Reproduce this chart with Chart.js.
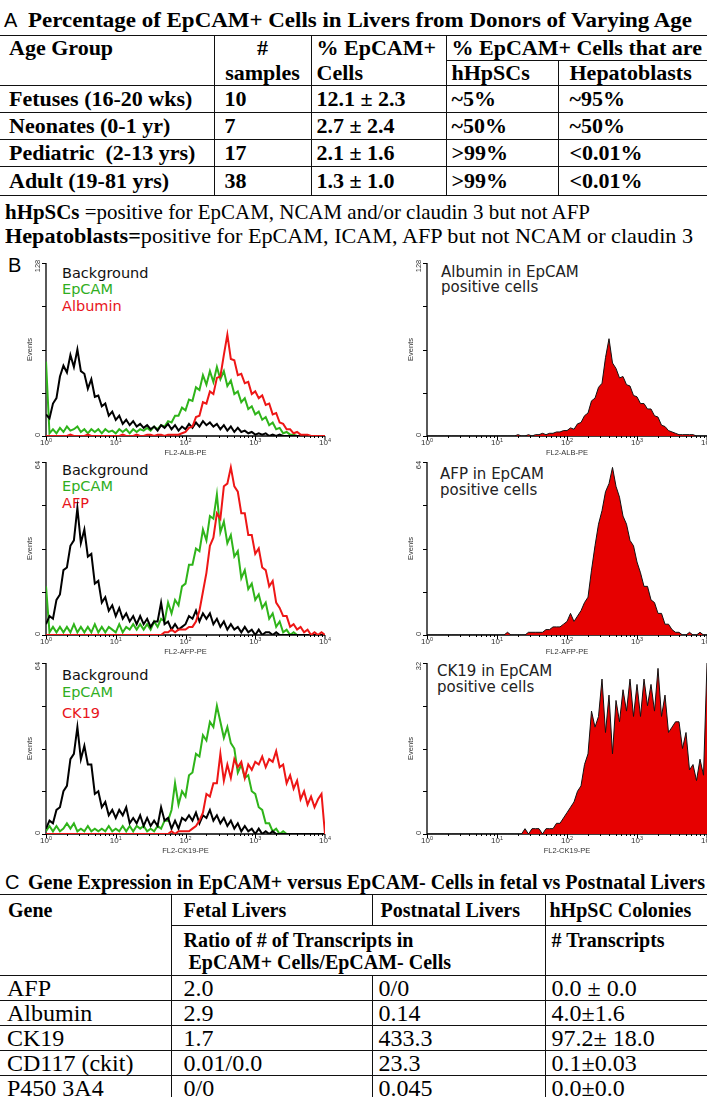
<!DOCTYPE html>
<html>
<head>
<meta charset="utf-8">
<script src="https://cdn.jsdelivr.net/npm/chart.js@4.4.1/dist/chart.umd.min.js"></script>
<style>
  body { margin: 0; background: #fff; }
  #fig { position: relative; width: 707px; height: 1097px; overflow: hidden;
         font-family: 'Liberation Serif', 'Times New Roman', serif; color: #000; }
  .abs { position: absolute; white-space: nowrap; }
  .plabel { font-family: 'Liberation Sans', Arial, sans-serif; font-size: 20px; line-height: 20px; }
  .ttl { font-weight: bold; font-size: 21px; line-height: 22px; transform-origin: 0 50%; }
  .note { font-size: 21px; line-height: 22px; transform-origin: 0 50%; }
  table { position: absolute; left: 0; border-collapse: collapse; table-layout: fixed; }
  td { border: 1px solid #111; padding: 0 0 0 6px; vertical-align: middle; white-space: nowrap; overflow: visible; }
  td:first-child { border-left: none; }
  #tabA td { font-weight: bold; font-size: 22px; line-height: 22px; }
  #tabC td { font-size: 24px; line-height: 24px; }
  #tabC tr.hd td { font-weight: bold; font-size: 20px; line-height: 22px; }
  td.nb { border-bottom: none; }
  td.nt { border-top: none; }
  td.c { text-align: center; padding-left: 0; }
  td.top { vertical-align: top; padding-top: 3px; }
  canvas { position: absolute; }
  .leg { position: absolute; font-family: 'DejaVu Sans', sans-serif; font-size: 14.5px; line-height: 16px; white-space: nowrap; }
  .g { color: #2fae1e; }
  .r { color: #e8141b; }
  .k { color: #111; }
  .d { color: #222; font-size: 15px; }
</style>
</head>
<body>
<div id="fig">
  <div class="abs plabel" style="left:4px;top:10px">A</div>
  <div class="abs ttl" style="left:28px;top:9px" data-w="664">Percentage of EpCAM+ Cells in Livers from Donors of Varying Age</div>

  <table id="tabA" style="top:35px;width:707px">
    <colgroup><col style="width:214px"><col style="width:97px"><col style="width:135px"><col style="width:112px"><col style="width:149px"></colgroup>
    <tr style="height:25px"><td class="nb" style="padding-left:9px">Age Group</td><td class="nb c">#</td><td class="nb" style="padding-left:5px">% EpCAM+</td><td colspan="2" style="padding-left:5px">% EpCAM+ Cells that are</td></tr>
    <tr style="height:25px"><td class="nt"></td><td class="nt c">samples</td><td class="nt" style="padding-left:5px">Cells</td><td style="padding-left:5px">hHpSCs</td><td style="padding-left:11px">Hepatoblasts</td></tr>
    <tr style="height:27px"><td style="padding-left:9px">Fetuses (16-20 wks)</td><td style="padding-left:10px">10</td><td style="padding-left:5px">12.1 ± 2.3</td><td style="padding-left:5px">~5%</td><td style="padding-left:11px">~95%</td></tr>
    <tr style="height:27px"><td style="padding-left:9px">Neonates (0-1 yr)</td><td style="padding-left:10px">7</td><td style="padding-left:5px">2.7 ± 2.4</td><td style="padding-left:5px">~50%</td><td style="padding-left:11px">~50%</td></tr>
    <tr style="height:27px"><td style="padding-left:9px">Pediatric&nbsp; (2-13 yrs)</td><td style="padding-left:10px">17</td><td style="padding-left:5px">2.1 ± 1.6</td><td style="padding-left:5px">&gt;99%</td><td style="padding-left:11px">&lt;0.01%</td></tr>
    <tr style="height:29px"><td style="padding-left:9px">Adult (19-81 yrs)</td><td style="padding-left:10px">38</td><td style="padding-left:5px">1.3 ± 1.0</td><td style="padding-left:5px">&gt;99%</td><td style="padding-left:11px">&lt;0.01%</td></tr>
  </table>

  <div class="abs note" style="left:5px;top:201px" data-w="585"><b>hHpSCs</b> =positive for EpCAM, NCAM and/or claudin 3 but not AFP</div>
  <div class="abs note" style="left:5px;top:225px" data-w="688"><b>Hepatoblasts=</b>positive for EpCAM, ICAM, AFP but not NCAM or claudin 3</div>

  <div class="abs plabel" style="left:8px;top:255px">B</div>

  <div class="leg k" style="left:62px;top:265px">Background</div>
  <div class="leg g" style="left:62px;top:281px">EpCAM</div>
  <div class="leg r" style="left:62px;top:298px">Albumin</div>
  <div class="leg d" style="left:441px;top:264px">Albumin in EpCAM</div>
  <div class="leg d" style="left:441px;top:279px">positive cells</div>

  <div class="leg k" style="left:62px;top:462px">Background</div>
  <div class="leg g" style="left:62px;top:478px">EpCAM</div>
  <div class="leg r" style="left:62px;top:495px">AFP</div>
  <div class="leg d" style="left:440px;top:466px">AFP in EpCAM</div>
  <div class="leg d" style="left:440px;top:482px">positive cells</div>

  <div class="leg k" style="left:62px;top:667px">Background</div>
  <div class="leg g" style="left:62px;top:684px">EpCAM</div>
  <div class="leg r" style="left:62px;top:705px">CK19</div>
  <div class="leg d" style="left:437px;top:663px">CK19 in EpCAM</div>
  <div class="leg d" style="left:437px;top:679px">positive cells</div>

  <div class="abs plabel" style="left:5px;top:872px">C</div>
  <div class="abs ttl" style="left:28px;top:871px" data-w="677">Gene Expression in EpCAM+ versus EpCAM- Cells in fetal vs Postnatal Livers</div>

  <table id="tabC" style="top:894px;width:707px">
    <colgroup><col style="width:171px"><col style="width:201px"><col style="width:173px"><col style="width:162px"></colgroup>
    <tr class="hd" style="height:31px"><td class="nb" style="padding-left:8px">Gene</td><td style="padding-left:12px">Fetal Livers</td><td style="padding-left:8px">Postnatal Livers</td><td style="padding-left:4px">hHpSC Colonies</td></tr>
    <tr class="hd" style="height:50px"><td class="nt"></td><td colspan="2" class="top" style="padding-left:12px">Ratio of # of Transcripts in<br>&nbsp;EpCAM+ Cells/EpCAM- Cells</td><td class="top" style="padding-left:6px"># Transcripts</td></tr>
    <tr style="height:25px"><td style="padding-left:7px">AFP</td><td style="padding-left:12px">2.0</td><td>0/0</td><td>0.0 ± 0.0</td></tr>
    <tr style="height:25px"><td style="padding-left:7px">Albumin</td><td style="padding-left:12px">2.9</td><td>0.14</td><td>4.0±1.6</td></tr>
    <tr style="height:25px"><td style="padding-left:7px">CK19</td><td style="padding-left:12px">1.7</td><td>433.3</td><td>97.2± 18.0</td></tr>
    <tr style="height:25px"><td style="padding-left:7px">CD117 (ckit)</td><td style="padding-left:12px">0.01/0.0</td><td>23.3</td><td>0.1±0.03</td></tr>
    <tr style="height:25px"><td style="padding-left:7px">P450 3A4</td><td style="padding-left:12px">0/0</td><td>0.045</td><td>0.0±0.0</td></tr>
  </table>
</div>

<script>
// histogram channels: 20 per decade, from 10^0 to 10^4 (81 values per series)
const channelsPerDecade = 20;

// panel 1 - Albumin
const bgAlb = [16,13,24,28,44,52,47,60,51,64,48,46,35,42,29,30,22,24,15,18,
               12,15,9,12,8,11,7,9,6,8,5,7,4,8,6,9,5,8,4,7,
               5,9,6,10,7,11,8,10,7,9,5,8,4,7,3,6,3,4,2,3,
               1,2,1,2,0,1,0,1,0,0,0,0,0,0,0,0,0,0,0,0,0];
const epAlb = [55,2,5,2,6,3,7,4,5,7,3,5,2,5,3,5,2,5,3,4,
               2,5,3,5,2,5,3,5,4,6,4,7,5,8,7,11,10,15,15,21,
               19,27,26,36,34,45,38,48,40,51,42,48,37,41,31,33,25,28,20,22,
               16,18,12,14,8,10,5,6,2,3,1,1,0,0,0,0,0,0,0,0,0];
const alb   = [0,0,0,0,0,0,0,1,0,0,0,0,1,0,0,0,0,0,0,0,
               0,0,1,0,0,0,1,0,0,1,1,0,1,1,0,1,1,1,1,2,
               3,6,7,14,15,25,24,33,31,43,44,60,75,57,56,45,46,39,40,31,
               33,28,30,23,24,16,17,10,9,5,5,2,3,1,1,1,0,0,0,0,0];
const albPos = [0,0,0,0,0,0,0,0,0,0,0,0,0,0,0,0,0,0,0,0,
                0,0,0,0,0,0,1,0,0,1,0,1,1,2,1,2,2,3,3,4,
                4,6,5,9,10,15,17,26,28,36,39,58,72,54,50,43,44,38,37,30,
                29,24,24,20,20,15,14,8,7,4,3,2,1,1,1,1,1,0,0,0,0];

// panel 2 - AFP
const bgAfp = [4,7,6,13,15,24,25,33,35,47,34,39,29,30,19,20,12,14,9,11,
               7,10,6,8,5,7,4,7,4,6,3,5,5,12,4,5,2,4,2,3,
               4,7,6,9,5,8,6,8,4,6,3,5,2,4,2,3,1,3,1,2,
               0,2,0,1,1,0,1,0,0,0,0,0,0,0,0,0,0,0,0,0,0];
const epAfp = [18,1,3,1,3,1,3,1,4,1,3,1,3,1,4,1,3,1,3,2,
               1,4,1,3,2,4,2,4,2,4,2,5,3,6,5,12,8,13,11,18,
               19,26,26,32,31,39,35,44,43,52,38,42,34,37,29,31,21,24,17,19,
               13,15,10,12,6,8,3,5,1,2,0,1,0,0,0,0,0,0,0,0,0];
const afp   = [0,0,0,0,0,0,0,0,0,0,0,0,0,0,0,0,0,0,0,0,
               0,0,0,0,0,0,0,0,0,0,0,0,0,0,1,1,2,1,2,2,
               2,3,3,5,9,16,23,33,36,45,43,55,56,62,55,53,45,45,37,37,
               30,32,25,24,18,20,12,10,7,7,3,4,2,3,1,2,0,1,0,1,0];
const afpPos = [0,0,0,0,0,0,0,0,0,0,0,0,0,0,0,0,0,0,0,0,
                0,0,0,1,0,0,0,0,0,1,1,1,1,1,2,2,3,3,3,4,
                5,8,5,7,9,12,14,24,33,41,46,53,56,62,55,51,44,41,35,33,
                27,23,18,18,13,12,8,8,4,4,2,1,1,0,0,1,0,0,1,0,0];

// panel 3 - CK19
const bgCk  = [2,5,4,9,10,16,18,28,30,40,28,33,26,26,15,16,10,12,7,9,
               6,9,7,10,4,6,4,7,3,6,3,5,3,10,5,6,2,5,2,6,
               5,7,5,8,4,7,6,9,5,7,4,6,3,5,2,4,1,3,1,2,
               0,2,0,1,0,1,0,0,0,0,0,0,0,0,0,0,0,0,0,0,0];
const epCk  = [1,3,1,3,1,2,4,2,4,1,2,1,3,1,2,1,2,1,3,1,
               2,1,3,1,3,1,3,2,3,1,2,1,3,2,5,5,9,19,11,16,
               14,22,23,30,29,37,35,42,40,48,42,36,40,34,32,23,26,21,22,16,
               15,10,9,4,4,1,2,0,1,0,0,0,0,0,0,0,0,0,0,0,0];
const ck19  = [0,0,0,0,0,0,0,0,0,0,0,0,0,0,0,0,0,0,0,0,
               0,0,0,0,0,0,0,0,0,0,0,0,0,0,0,0,1,0,1,1,
               1,1,2,3,5,8,15,14,19,19,30,20,26,21,28,25,27,21,26,24,
               27,26,29,25,28,27,31,25,26,19,22,17,20,13,16,11,14,10,13,15,0];
const ck19Pos = [0,0,0,0,0,0,0,0,0,0,0,0,0,0,0,0,0,0,0,0,
                 0,0,0,0,0,0,0,0,1,0,1,1,1,0,1,1,1,2,2,3,
                 4,5,6,8,9,13,15,23,20,22,29,19,26,15,25,21,27,23,29,22,
                 28,22,29,24,28,23,31,22,26,19,20,21,21,16,19,12,13,10,14,11,32];

const decades = [0, 1, 2, 3, 4];
const yMaxes = [128, 64, 64];
const yMaxesRight = [128, 64, 32];
const xTitles = ['FL2-ALB-PE', 'FL2-AFP-PE', 'FL2-CK19-PE'];

const BLACK = '#000', GREEN = '#2fb41a', RED = '#ee1616', FILL = '#e60000';

function toPoints(values) {
    return values.map((v, i) => ({ x: Math.pow(10, i / channelsPerDecade), y: v }));
}

// axes drawn by hand so the flow-cytometry look (rotated labels, minor log ticks) matches
const flowAxes = {
    id: 'flowAxes',
    beforeDatasetsDraw(chart, args, opts) {
        const { ctx, chartArea: a, scales: { x, y } } = chart;
        ctx.save();
        ctx.strokeStyle = '#000';
        ctx.lineWidth = 1.3;
        ctx.beginPath();
        ctx.moveTo(a.left, a.top);
        ctx.lineTo(a.left, a.bottom);
        ctx.lineTo(a.right, a.bottom);
        ctx.stroke();

        ctx.lineWidth = 1;
        ctx.beginPath();
        for (let k = 0; k <= 4; k++) {
            const py = Math.round(y.getPixelForValue(opts.yMax * k / 4)) + 0.5;
            ctx.moveTo(a.left - 4, py);
            ctx.lineTo(a.left, py);
        }
        decades.forEach(d => {
            if (d === 4) {
                const px = x.getPixelForValue(10000);
                ctx.moveTo(px, a.bottom); ctx.lineTo(px, a.bottom + 4);
                return;
            }
            for (let m = 1; m < 10; m++) {
                const px = Math.round(x.getPixelForValue(m * Math.pow(10, d))) + 0.5;
                ctx.moveTo(px, a.bottom);
                ctx.lineTo(px, a.bottom + (m === 1 ? 4 : 2));
            }
        });
        ctx.stroke();

        ctx.fillStyle = '#333';
        ctx.textBaseline = 'middle';
        decades.forEach(d => {
            const px = x.getPixelForValue(Math.pow(10, d));
            ctx.font = '8px "Liberation Sans", Arial, sans-serif';
            const wb = ctx.measureText('10').width;
            ctx.font = '5.5px "Liberation Sans", Arial, sans-serif';
            const we = ctx.measureText(String(d)).width;
            const x0 = px - (wb + we) / 2;
            ctx.font = '8px "Liberation Sans", Arial, sans-serif';
            ctx.textAlign = 'left';
            ctx.fillText('10', x0, a.bottom + 7);
            ctx.font = '5.5px "Liberation Sans", Arial, sans-serif';
            ctx.fillText(String(d), x0 + wb, a.bottom + 4);
        });

        ctx.textAlign = 'center';
        ctx.font = '7.5px "Liberation Sans", Arial, sans-serif';
        ctx.fillText(opts.xTitle, (a.left + a.right) / 2, a.bottom + 17);

        const label = (txt, cx, cy) => {
            ctx.save();
            ctx.translate(cx, cy);
            ctx.rotate(-Math.PI / 2);
            ctx.fillText(txt, 0, 0);
            ctx.restore();
        };
        ctx.font = '7.5px "Liberation Sans", Arial, sans-serif';
        label(String(opts.yMax), a.left - 8, a.top + 3);
        label('0', a.left - 8, a.bottom - 1);
        label('Events', a.left - 16, (a.top + a.bottom) / 2);
        ctx.restore();
    }
};

function histChart(box, yMax, xTitle, series) {
    const cv = document.createElement('canvas');
    cv.width = box.w;
    cv.height = box.h;
    cv.style.left = box.x + 'px';
    cv.style.top = box.y + 'px';
    document.getElementById('fig').appendChild(cv);

    return new Chart(cv, {
        type: 'line',
        data: {
            datasets: series.map(s => ({
                data: toPoints(s.values),
                borderColor: s.color,
                backgroundColor: s.fill || 'transparent',
                fill: s.fill ? 'origin' : false,
                borderWidth: s.width,
                order: s.order,
                pointRadius: 0,
                tension: 0
            }))
        },
        options: {
            responsive: false,
            animation: false,
            events: [],
            layout: { padding: box.pad },
            plugins: {
                legend: { display: false },
                tooltip: { enabled: false },
                flowAxes: { yMax: yMax, xTitle: xTitle }
            },
            scales: {
                x: { type: 'logarithmic', min: 1, max: 10000, display: false },
                y: { type: 'linear', min: 0, max: yMax, display: false }
            }
        },
        plugins: [flowAxes]
    });
}

const panelTops = [263, 462, 663];
const panelBottoms = [436, 635, 834];
const leftSeries = [
    [bgAlb, epAlb, alb],
    [bgAfp, epAfp, afp],
    [bgCk, epCk, ck19]
];
const rightSeries = [albPos, afpPos, ck19Pos];

panelTops.forEach((top, i) => {
    const h = panelBottoms[i] - top;
    const [bg, ep, marker] = leftSeries[i];
    histChart(
        { x: 0, y: top - 12, w: 354, h: h + 38, pad: { top: 12, bottom: 26, left: 46, right: 29 } },
        yMaxes[i], xTitles[i],
        [
            { values: marker, color: RED, width: 2, order: 0 },
            { values: bg, color: BLACK, width: 2, order: 1 },
            { values: ep, color: GREEN, width: 2, order: 2 }
        ]
    );
    histChart(
        { x: 354, y: top - 12, w: 353, h: h + 38, pad: { top: 12, bottom: 26, left: 73, right: 0 } },
        yMaxesRight[i], xTitles[i],
        [{ values: rightSeries[i], color: '#111', fill: FILL, width: 1, order: 0 }]
    );
});

// stretch title lines to the measured widths of the original figure
document.querySelectorAll('[data-w]').forEach(el => {
    const w = el.getBoundingClientRect().width;
    el.style.transform = 'scaleX(' + (el.dataset.w / w) + ')';
});
</script>
</body>
</html>
